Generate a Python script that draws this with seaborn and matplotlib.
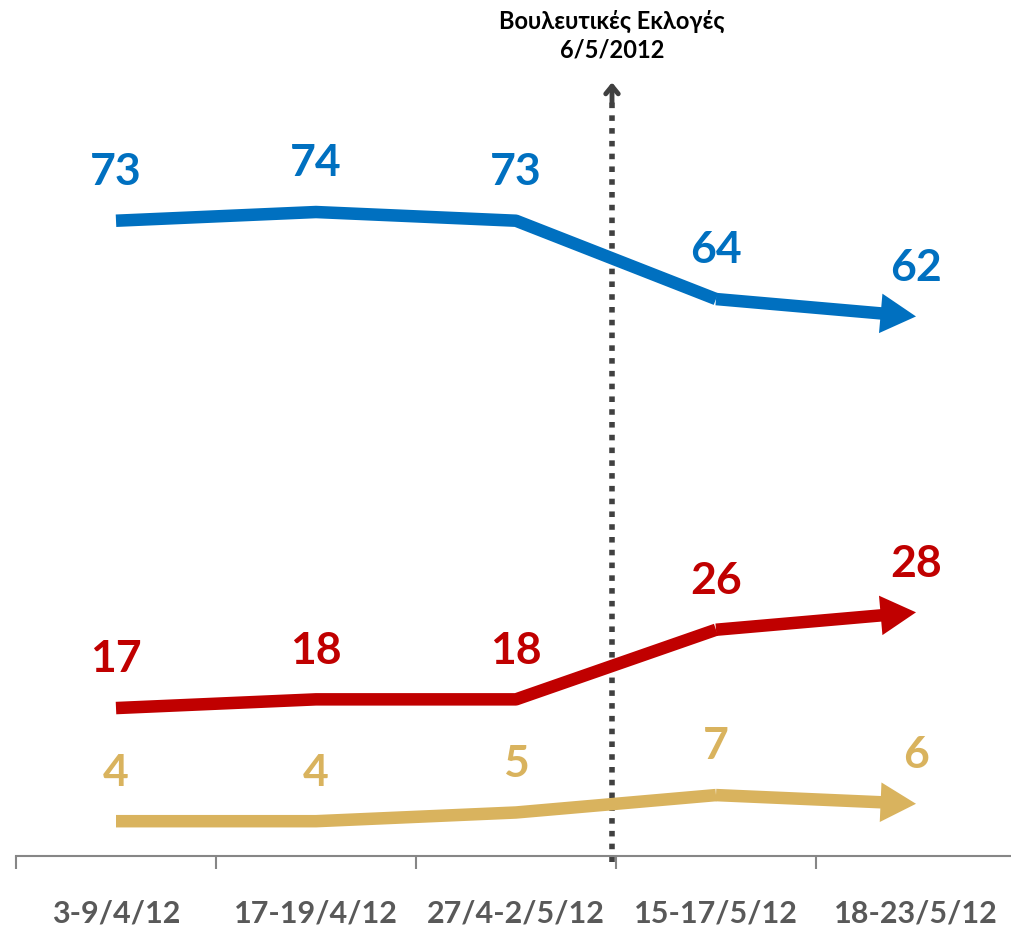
import pandas as pd
import matplotlib.pyplot as plt
import seaborn as sns

# Data
periods = ['3-9/4/12', '17-19/4/12', '27/4-2/5/12', '15-17/5/12', '18-23/5/12']
series_a = [73, 74, 73, 64, 62]   # blue
series_b = [17, 18, 18, 26, 28]   # red
series_c = [4, 4, 5, 7, 6]        # gold
event_label = 'Βουλευτικές Εκλογές\n6/5/2012'

colors = {'a': '#0070C0', 'b': '#C00000', 'c': '#D9B35E'}
values = {'a': series_a, 'b': series_b, 'c': series_c}

sns.set_style('white')
plt.rcParams['font.family'] = ['Lato', 'DejaVu Sans']
plt.rcParams['font.weight'] = 'bold'

rows = []
for key, vals in values.items():
    for i, v in enumerate(vals):
        rows.append({'x': i, 'period': periods[i], 'series': key, 'value': v})
df = pd.DataFrame(rows)

fig = plt.figure(figsize=(10.12, 9.33), dpi=100)
ax = fig.add_axes([16 / 1012, 77 / 933, 1000 / 1012, 845 / 933])

# lines up to the 4th point, last segment drawn as an arrow
sns.lineplot(data=df[df['x'] < len(periods) - 1], x='x', y='value', hue='series',
             palette=colors, linewidth=9, legend=False, ax=ax,
             solid_joinstyle='round', solid_capstyle='butt')

for key, vals in values.items():
    n = len(vals)
    ax.annotate('', xy=(n - 1, vals[-1]), xytext=(n - 2, vals[-2]),
                arrowprops=dict(arrowstyle='simple,head_length=0.85,head_width=0.95,tail_width=0.3',
                                color=colors[key], lw=0, shrinkA=0, shrinkB=0,
                                mutation_scale=30))
    for i, v in enumerate(vals):
        ax.annotate(str(v), xy=(i, v), xytext=(0, 35), textcoords='offset points',
                    ha='center', va='center', fontsize=32, fontweight='bold',
                    color=colors[key])

# election marker
ex = 2.48
ax.plot([ex, ex], [-0.7, 86.6], color='#404040', lw=4, linestyle=(0, (1, 1.3)),
        dash_capstyle='butt', clip_on=False, zorder=1)
ax.annotate('', xy=(ex, 88.9), xytext=(ex, 86.6),
            arrowprops=dict(arrowstyle='->,head_length=0.55,head_width=0.45',
                            color='#404040', lw=3.5, shrinkA=0, shrinkB=0))
fig.text(612 / 1012, 1 - 36 / 933, event_label, ha='center', va='center',
         fontsize=17, fontweight='bold', color='black', linespacing=1.3)

ax.set_xlim(-0.5, len(periods) - 0.5)
ax.set_ylim(0, 97.1)
ax.set_xticks(range(len(periods)))
ax.set_xticklabels(periods)
ax.set_xticks([i - 0.5 for i in range(len(periods) + 1)], minor=True)
ax.tick_params(axis='x', which='major', length=0, pad=31, labelsize=22,
               labelcolor='#595959')
ax.tick_params(axis='x', which='minor', bottom=True, length=9, width=1.5,
               color='#868686', direction='out')
for lab in ax.get_xticklabels():
    lab.set_fontweight('bold')
ax.set_yticks([])
ax.set_xlabel('')
ax.set_ylabel('')
sns.despine(ax=ax, left=True)
ax.spines['bottom'].set_color('#868686')
ax.spines['bottom'].set_linewidth(1.5)

fig.savefig('out.png', dpi=100)
